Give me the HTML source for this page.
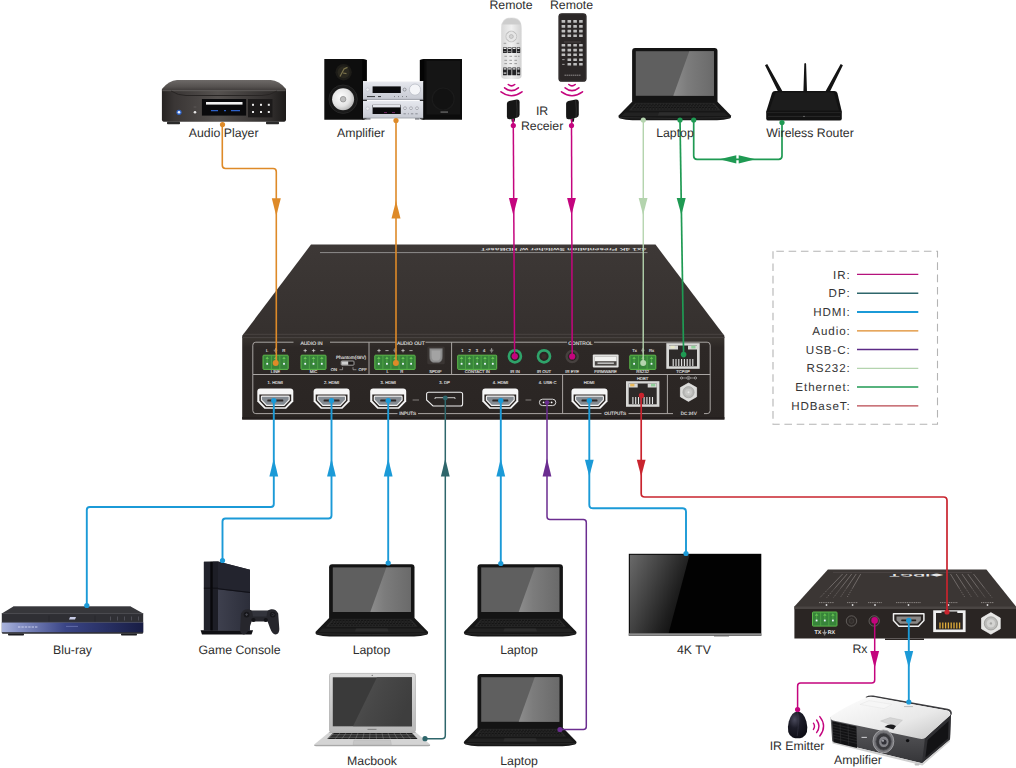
<!DOCTYPE html>
<html>
<head>
<meta charset="utf-8">
<title>Connection Diagram</title>
<style>
html,body{margin:0;padding:0;background:#fff;}
body{width:1016px;height:768px;overflow:hidden;position:relative;font-family:"Liberation Sans",sans-serif;}
svg{position:absolute;left:0;top:0;display:block;}
text{font-family:"Liberation Sans",sans-serif;}
.lbl{font-size:12.3px;fill:#2e2e2e;}
.leg{font-size:11.6px;fill:#333;letter-spacing:0.92px;}
.w{fill:none;stroke-width:1.8;stroke-linejoin:round;stroke-linecap:butt;}
.tiny{font-size:3.6px;fill:#e0e0e0;stroke:#e0e0e0;stroke-width:0.12px;font-weight:normal;text-rendering:geometricPrecision;}
text{text-rendering:geometricPrecision;}
</style>
</head>
<body>
<svg width="1016" height="768" viewBox="0 0 1016 768">
<defs>
<!--DEFS-->
<linearGradient id="gBlu" x1="0" y1="0" x2="1" y2="0"><stop offset="0" stop-color="#aab4dc"/><stop offset="0.12" stop-color="#8792c6"/><stop offset="0.45" stop-color="#3a4586"/><stop offset="1" stop-color="#181d44"/></linearGradient>
<linearGradient id="gTV" x1="0" y1="0" x2="1" y2="0.55"><stop offset="0" stop-color="#6a6a6a"/><stop offset="0.45" stop-color="#404040"/><stop offset="0.8" stop-color="#1e1e1e"/><stop offset="1" stop-color="#0e0e0e"/></linearGradient>
<linearGradient id="gMac" x1="0" y1="0" x2="0" y2="1"><stop offset="0" stop-color="#dcdcdc"/><stop offset="1" stop-color="#b9b9b9"/></linearGradient>
<linearGradient id="gMacS" x1="0" y1="0" x2="1" y2="0.4"><stop offset="0" stop-color="#535353"/><stop offset="0.5" stop-color="#474747"/><stop offset="1" stop-color="#3e3e3e"/></linearGradient>
<linearGradient id="gPS" x1="0" y1="0" x2="1" y2="0"><stop offset="0" stop-color="#3e404e"/><stop offset="1" stop-color="#2c2e3a"/></linearGradient>
<linearGradient id="gPrT" x1="0" y1="0" x2="1" y2="1"><stop offset="0" stop-color="#ffffff"/><stop offset="0.6" stop-color="#e9e9e9"/><stop offset="1" stop-color="#c4c4c4"/></linearGradient>
<linearGradient id="gPrF" x1="0" y1="0" x2="0" y2="1"><stop offset="0" stop-color="#626265"/><stop offset="0.5" stop-color="#4c4c4f"/><stop offset="1" stop-color="#353538"/></linearGradient>
<radialGradient id="gEgg" cx="0.35" cy="0.3" r="0.8"><stop offset="0" stop-color="#4a4a5c"/><stop offset="0.4" stop-color="#1c1c28"/><stop offset="1" stop-color="#0b0b12"/></radialGradient>
<g id="hdmis">
<path d="M-15.2 -6.3 H15.2 V0.6 L9.8 6.3 H-9.8 L-15.2 0.6Z" fill="#2a2523" stroke="#efefef" stroke-width="1.5" stroke-linejoin="round"/>
<path d="M-12.2 -3.5 H12.2 V0.2 L8.5 3.7 H-8.5 L-12.2 0.2Z" fill="#8a8887"/>
<rect x="-7.5" y="-0.6" width="15" height="1.8" rx="0.6" fill="#2a2523"/>
</g>

<linearGradient id="gScr" x1="0" y1="0" x2="1" y2="0"><stop offset="0" stop-color="#5d5d5d"/><stop offset="1" stop-color="#6a6a6a"/></linearGradient>
<linearGradient id="gShine" x1="0" y1="0" x2="1" y2="0"><stop offset="0" stop-color="#8d8d8d"/><stop offset="0.35" stop-color="#7c7c7c"/><stop offset="1" stop-color="#6a6a6a"/></linearGradient>
<g id="laptop">
<rect x="0" y="0" width="85.4" height="56" rx="3" fill="#141414"/>
<rect x="3.7" y="3.2" width="78.1" height="44.6" fill="#5f5f5f"/>
<path d="M57.2 3.2 H81.8 V47.8 H41.2Z" fill="url(#gShine)"/>
<path d="M0 53.8 H85.4 L98.6 67.2 Q99.8 69.4 97.4 70.6 Q92 72.2 85 72.2 H0.4 Q-6.6 72.2 -12 70.6 Q-14.4 69.4 -13.2 67.2Z" fill="#171717"/>
<path d="M3.5 55 H81.9 L88.6 62.6 H-3.2Z" fill="#2a2a2a"/>
<path d="M4 56.2 H81.4 M2.8 57.8 H82.6 M1.6 59.4 H83.8 M0.2 61 H85.2" stroke="#111" stroke-width="0.9" stroke-dasharray="2.3 0.8"/>
<path d="M-7 64.4 H92.4 L96 68 H-10.6Z" fill="#222"/>
<path d="M27 64.2 H58.4 L59.6 67.4 H25.8Z" fill="#2d2d2d"/>
<path d="M-12.8 69.6 Q42 71.2 98.2 69.6" stroke="#353535" stroke-width="0.6" fill="none"/>
</g>
<linearGradient id="gAP" x1="0" y1="0" x2="1" y2="0"><stop offset="0" stop-color="#262322"/><stop offset="0.1" stop-color="#3a3635"/><stop offset="0.45" stop-color="#55514f"/><stop offset="0.88" stop-color="#312e2d"/><stop offset="1" stop-color="#1d1b1a"/></linearGradient>
<linearGradient id="gAPt" x1="0" y1="0" x2="0" y2="1"><stop offset="0" stop-color="#6d6967"/><stop offset="0.6" stop-color="#565250"/><stop offset="1" stop-color="#3c3837"/></linearGradient>
<radialGradient id="gWoof" cx="0.4" cy="0.4" r="0.7"><stop offset="0" stop-color="#ffffff"/><stop offset="0.6" stop-color="#e4e4e4"/><stop offset="1" stop-color="#a9a9a9"/></radialGradient>
<linearGradient id="gSil" x1="0" y1="0" x2="0" y2="1"><stop offset="0" stop-color="#e6e8ee"/><stop offset="1" stop-color="#c6c9d2"/></linearGradient>
<linearGradient id="gRem" x1="0" y1="0" x2="1" y2="0"><stop offset="0" stop-color="#d8d8d8"/><stop offset="0.5" stop-color="#f0f0f0"/><stop offset="1" stop-color="#d2d2d2"/></linearGradient>
<g id="irrx"><path d="M0.9 2.6 Q0.9 0.3 3.2 -0.2 L10.6 -1.6 Q13.6 -1.9 13.6 1 V13.4 Q13.6 15.8 11.4 16.4 L4.4 18 Q0.9 18.6 0.9 15.6Z" fill="#161616"/><path d="M10.4 -1 Q11.6 8 10.8 16.4" stroke="#3a3a3a" stroke-width="0.7" fill="none"/><path d="M5.2 17.4 L5.8 20.6 H8.6 L9.2 16.8Z" fill="#161616"/></g>
<g id="waves" fill="none" stroke="#C4057E" stroke-width="1.6" stroke-linecap="round"><path d="M-3.2 0 Q0 2.6 3.2 0"/><path d="M-6.9 3.3 Q0 8.9 6.9 3.3"/><path d="M-10.5 7.3 Q0 15.1 10.5 7.3"/></g>

<linearGradient id="gFront" x1="0" y1="0" x2="0" y2="1"><stop offset="0" stop-color="#38332f"/><stop offset="0.12" stop-color="#2d2826"/><stop offset="1" stop-color="#2a2523"/></linearGradient>
<linearGradient id="gTop" x1="0" y1="0" x2="0" y2="1"><stop offset="0" stop-color="#3d3836"/><stop offset="1" stop-color="#35302e"/></linearGradient>
<g id="hdmi">
<path d="M-15 -10.6 H15 Q18 -10.6 18 -7.6 V2.4 L10.8 9.7 H-10.8 L-18 2.4 V-7.6 Q-18 -10.6 -15 -10.6Z" fill="#f6f6f6"/>
<path d="M-15.9 -4.5 H15.9 V1.7 L9.8 8.2 H-9.8 L-15.9 1.7Z" fill="#2a2523"/>
<path d="M-13 -2.9 H13 Q13.9 -2.9 13.9 -2 V1 L8.7 6.4 H-8.7 L-13.9 1 V-2 Q-13.9 -2.9 -13 -2.9Z" fill="#848b92" stroke="#f2f2f2" stroke-width="1.1"/>
<rect x="-8" y="0.6" width="16" height="2" rx="0.7" fill="#2e2a2a"/>
</g>
<g id="pin"><rect x="-3.6" y="-7" width="7.2" height="14" fill="#3fa535"/><path d="M-3.6 -7 V7 M3.6 -7 V7" stroke="#256b22" stroke-width="0.5"/><path d="M0 -6.5 L-1.6 -3.8 H1.6Z" fill="#256b22"/><path d="M0 -4 V2" stroke="#256b22" stroke-width="0.5"/><rect x="-0.9" y="0.2" width="1.8" height="1.8" fill="#e9f3ff"/></g>
<g id="rj45">
<rect x="-16.7" y="-12.8" width="33.4" height="25.6" fill="#d8d8d6"/>
<path d="M-14 -10.5 H14 V10.3 H-14Z" fill="#2d2a29"/>
<path d="M-14 -10.5 H-5 V-6.5 H-14Z M5 -10.5 H14 V-6.5 H5Z" fill="#d8d8d6"/>
<path d="M-9.8 3 V10 M-7 3 V10 M-4.2 3 V10 M-1.4 3 V10 M1.4 3 V10 M4.2 3 V10 M7 3 V10 M9.8 3 V10" stroke="#e6e6e6" stroke-width="1.1"/>
</g>
<g id="gnd"><path d="M0 -2.2 V0 M-1.8 0 H1.8 M-1.1 1 H1.1 M-0.5 2 H0.5" stroke="#e8e8e8" stroke-width="0.5" fill="none"/></g>

</defs>

<!--DEVICES-TOP-->
<g id="audioplayer">
<path d="M177 80 H270.7 Q279 80.3 286 89 V91 H161.9 V89 Q169 80.3 177 80Z" fill="url(#gAPt)"/>
<path d="M161.9 90.4 H286 V119.5 Q286 121.8 283 121.8 H165 Q161.9 121.8 161.9 119.5Z" fill="url(#gAP)"/>
<path d="M162.4 90.7 H285.5" stroke="#6f6b69" stroke-width="0.7"/>
<path d="M171 91 Q178 95.5 186 95.5 H262 Q270 95.5 277 91" fill="none" stroke="#282524" stroke-width="1"/>
<rect x="167" y="121.6" width="13" height="2.6" rx="0.8" fill="#2a2a2a"/><rect x="266" y="121.6" width="13" height="2.6" rx="0.8" fill="#2a2a2a"/>
<rect x="201.9" y="99" width="44.2" height="16.6" fill="#0a0a0c"/>
<rect x="206" y="102" width="36.5" height="2.6" fill="#f3f3f3"/>
<path d="M211 110.6 H218 M224 110.6 H226 M231 110.6 H240" stroke="#2e62c9" stroke-width="1.4"/>
<rect x="248" y="99" width="24.5" height="18.3" fill="#1c1a1a"/>
<g fill="#e9e9e9"><rect x="252" y="103.8" width="2" height="2"/><rect x="260" y="103.8" width="2" height="2"/><rect x="267.8" y="103.8" width="2" height="2"/><rect x="252" y="111" width="2" height="2"/><rect x="260" y="111" width="2" height="2"/><rect x="267.8" y="111" width="2" height="2"/></g>
<circle cx="179" cy="112.3" r="2.6" fill="#2f63c6"/><circle cx="179" cy="112.3" r="1.3" fill="#eef3ff"/>
<circle cx="195" cy="112.3" r="1.3" fill="#e6e6e6"/><rect x="193.6" y="106.5" width="2.8" height="1" fill="#5c5857"/>
</g>

<g id="stereo">
<path d="M324.3 58.9 H362.3 L366.7 60 V119 L362.3 119.7 H324.3Z" fill="#0e0e0e"/>
<path d="M362.3 58.9 L366.7 60 V119 L362.3 119.7Z" fill="#050505"/>
<circle cx="343.1" cy="99.2" r="14.2" fill="#1a1a1a" stroke="#262626" stroke-width="1"/>
<circle cx="343.1" cy="99.2" r="11" fill="url(#gWoof)"/><circle cx="343.1" cy="99.2" r="2.8" fill="#bdbdbd" stroke="#8a8a8a" stroke-width="0.7"/>
<circle cx="343.6" cy="72.3" r="8.2" fill="#1d1c18"/><circle cx="343.6" cy="72.3" r="6" fill="#2a281f"/><path d="M340 76.5 L344 69 L347.5 67.4 M343 73 L346.5 73.6" stroke="#7a724b" stroke-width="1.2" fill="none"/>
<path d="M419.9 60 L424.3 58.9 H462 V119.7 H424.3 L419.9 119Z" fill="#0c0c0c"/>
<path d="M419.9 60 L424.3 58.9 V119.7 L419.9 119Z" fill="#040404"/>
<rect x="426.5" y="61" width="33.5" height="53.5" fill="#151515"/>
<circle cx="443.2" cy="99" r="11" fill="#121212" stroke="#1b1b1b" stroke-width="1.2"/>
<rect x="440.5" y="111.6" width="7.5" height="0.9" fill="#8d8d8d"/>
<rect x="363" y="81.2" width="60.2" height="18.4" fill="url(#gSil)"/><path d="M363 81.6 H423.2" stroke="#f7f7f9" stroke-width="0.8"/>
<path d="M363 99.4 H423.2" stroke="#8f929a" stroke-width="0.8"/>
<rect x="363" y="100.8" width="60.2" height="17.4" fill="url(#gSil)"/><path d="M363 118 H423.2" stroke="#9a9da5" stroke-width="0.7"/>
<rect x="372.6" y="86.4" width="28.2" height="6.6" fill="#0b0b0d"/>
<circle cx="415" cy="89.6" r="5.6" fill="#f4f5f8" stroke="#b9bcc5" stroke-width="0.8"/>
<circle cx="404.6" cy="89.6" r="1.5" fill="#d9dbe1" stroke="#70737b" stroke-width="0.6"/>
<circle cx="367.6" cy="89.6" r="1.7" fill="#eceef2" stroke="#b6b9c1" stroke-width="0.5"/>
<path d="M367 96.6 H375 M378 96.6 H381" stroke="#33353a" stroke-width="1"/><path d="M394 96.6 h1 m3 0 h1 m3 0 h1 m3 0 h1" stroke="#70737b" stroke-width="0.9"/>
<rect x="372.6" y="104.8" width="28.2" height="9.2" fill="#0b0b0d"/><rect x="373" y="104.8" width="27.4" height="2.6" fill="#e4e6ec"/>
<path d="M384 112.6 h3 m5 0 h3" stroke="#8a2b7a" stroke-width="0.8"/>
<circle cx="367.6" cy="108.6" r="1.7" fill="#eceef2" stroke="#b6b9c1" stroke-width="0.5"/>
<g fill="#e9ebf0" stroke="#787b84" stroke-width="0.5"><circle cx="405" cy="108.2" r="1.4"/><circle cx="411" cy="108.2" r="1.4"/><circle cx="417" cy="108.2" r="1.4"/></g>
<path d="M403.5 113.8 h2.4 m2 0 h1 m2 0 h2.4 m2 0 h2.4" stroke="#85888f" stroke-width="0.9"/>
<rect x="366" y="118.2" width="4.5" height="1.4" fill="#777a82"/><rect x="415" y="118.2" width="4.5" height="1.4" fill="#777a82"/>
</g>

<g id="remote1">
<path d="M501.2 28 Q501.2 17.3 511.4 17.3 Q521.6 17.3 521.6 28 V75.6 Q521.6 78.9 518.3 78.9 H504.5 Q501.2 78.9 501.2 75.6Z" fill="url(#gRem)"/>
<path d="M502.2 24.6 Q503.6 18 511.4 18 Q519.2 18 520.6 24.6Z" fill="#cdcdcd"/>
<circle cx="511.3" cy="36.5" r="5.4" fill="#e6e6e6" stroke="#b9b9b9" stroke-width="0.7"/><circle cx="511.3" cy="36.5" r="2" fill="#d2d2d2" stroke="#a3a3a3" stroke-width="0.5"/>
<path d="M506.4 34 l3 -2.4 M516.2 34 l-3 -2.4 M506.4 39 l3 2.4 M516.2 39 l-3 2.4" stroke="#bdbdbd" stroke-width="0.8"/>
<path d="M503.6 43.4 h2.6 M516.6 43.4 h2.6" stroke="#ababab" stroke-width="1.1"/>
<g fill="#232325"><rect x="503" y="47.2" width="3.9" height="5.8" rx="0.5"/><rect x="507.6" y="47.2" width="3.9" height="5.8" rx="0.5"/><rect x="512.2" y="47.2" width="3.9" height="5.8" rx="0.5"/><rect x="516.8" y="47.2" width="3.4" height="5.8" rx="0.5"/></g>
<path d="M503.6 48.3 h2.7 m1.9 0 h2.7 m1.9 0 h2.7 m1.9 0 h2.2" stroke="#e8e8e8" stroke-width="1.2"/>
<path d="M503.6 51.6 h2.7 m1.9 0 h2.7 m6.5 0 h2.2" stroke="#8e8e90" stroke-width="0.9"/>
<path d="M504.4 56.3 h2.6 m2.4 0 h2.6 m2.4 0 h2.6 m1 0 h1.6 M504.4 60.3 h2.6 m2.4 0 h2.6 m2.4 0 h2.6 M504.4 63.6 h2.6 m2.4 0 h2.6 m2.4 0 h2.6" stroke="#9a9a9a" stroke-width="1"/>
<g fill="#232325"><rect x="503" y="67.6" width="3.9" height="7.6" rx="0.5"/><rect x="507.6" y="67.6" width="3.9" height="7.6" rx="0.5"/><rect x="512.2" y="67.6" width="3.9" height="7.6" rx="0.5"/><rect x="516.8" y="67.6" width="3.4" height="7.6" rx="0.5"/></g>
<path d="M503.6 68.8 h2.7 m1.9 0 h2.7 m1.9 0 h2.7 m1.9 0 h2.2" stroke="#e4e4e4" stroke-width="1.2"/>
<path d="M503.6 73.2 h2.7 M517.4 73.2 h2.2" stroke="#d8d8d8" stroke-width="1.3"/>
</g>

<g id="remote2">
<rect x="558.4" y="13.2" width="28.2" height="68.6" rx="3.4" fill="#2b2727"/>
<rect x="559.4" y="14" width="26.2" height="67" rx="2.8" fill="none" stroke="#3a3535" stroke-width="0.6"/>
<g fill="#bdbdbd">
<rect x="561.6" y="20.1" width="3.6" height="2.6" rx="0.3"/><rect x="567.5" y="20.1" width="3.6" height="2.6" rx="0.3"/><rect x="573.3" y="20.1" width="3.6" height="2.6" rx="0.3"/><rect x="579.1" y="20.1" width="3.6" height="2.6" rx="0.3"/><rect x="561.6" y="25.1" width="3.6" height="2.6" rx="0.3"/><rect x="567.5" y="25.1" width="3.6" height="2.6" rx="0.3"/><rect x="573.3" y="25.1" width="3.6" height="2.6" rx="0.3"/><rect x="579.1" y="25.1" width="3.6" height="2.6" rx="0.3"/><rect x="561.6" y="29.8" width="3.6" height="2.6" rx="0.3"/><rect x="567.5" y="29.8" width="3.6" height="2.6" rx="0.3"/><rect x="573.3" y="29.8" width="3.6" height="2.6" rx="0.3"/><rect x="579.1" y="29.8" width="3.6" height="2.6" rx="0.3"/><rect x="561.6" y="34.4" width="3.6" height="2.6" rx="0.3"/><rect x="567.5" y="34.4" width="3.6" height="2.6" rx="0.3"/><rect x="573.3" y="34.4" width="3.6" height="2.6" rx="0.3"/><rect x="579.1" y="34.4" width="3.6" height="2.6" rx="0.3"/><rect x="561.6" y="43.9" width="3.6" height="2.6" rx="0.3"/><rect x="567.5" y="43.9" width="3.6" height="2.6" rx="0.3"/><rect x="573.3" y="43.9" width="3.6" height="2.6" rx="0.3"/><rect x="579.1" y="43.9" width="3.6" height="2.6" rx="0.3"/><rect x="561.6" y="48.8" width="3.6" height="2.6" rx="0.3"/><rect x="567.5" y="48.8" width="3.6" height="2.6" rx="0.3"/><rect x="573.3" y="48.8" width="3.6" height="2.6" rx="0.3"/><rect x="579.1" y="48.8" width="3.6" height="2.6" rx="0.3"/><rect x="561.6" y="53.5" width="3.6" height="2.6" rx="0.3"/><rect x="567.5" y="53.5" width="3.6" height="2.6" rx="0.3"/><rect x="573.3" y="53.5" width="3.6" height="2.6" rx="0.3"/><rect x="579.1" y="53.5" width="3.6" height="2.6" rx="0.3"/><rect x="562.2" y="59.3" width="2.4" height="0.8"/><rect x="567.5" y="58.4" width="3.6" height="2.6" rx="0.3"/><rect x="573.3" y="58.4" width="3.6" height="2.6" rx="0.3"/><rect x="579.1" y="58.4" width="3.6" height="2.6" rx="0.3"/><rect x="562.2" y="63.9" width="2.4" height="0.8"/><rect x="567.5" y="63.0" width="3.6" height="2.6" rx="0.3"/><rect x="573.3" y="63.0" width="3.6" height="2.6" rx="0.3"/><rect x="579.1" y="63.0" width="3.6" height="2.6" rx="0.3"/>
</g>
<path d="M564 42 H581" stroke="#6c6767" stroke-width="0.5"/>
<path d="M564.5 75.2 H581" stroke="#9b9797" stroke-width="0.9" stroke-dasharray="1.5 0.5"/>
</g>

<use href="#waves" x="511.5" y="84.5"/><use href="#waves" x="572" y="84.5"/>
<use href="#irrx" x="506" y="101.2"/><use href="#irrx" x="565.2" y="101.2"/>
<path d="M513.1 119 V125" stroke="#C4057E" stroke-width="1.6"/><path d="M571.7 119 V125" stroke="#C4057E" stroke-width="1.6"/>

<use href="#laptop" x="632.1" y="48"/>

<g id="router">
<path d="M765 65.2 L767.2 64 L782.6 91.6 H778Z M804.3 63.8 Q805.2 62.4 806.1 63.8 L807 91.6 H803.4Z M842.9 65.2 L840.7 64 L825.4 91.6 H830Z" fill="#141414"/>
<path d="M775 90.9 H834.4 Q836.6 90.9 837.4 93 L841.8 111.6 V118.4 Q841.8 120.6 839.5 120.6 H768.5 Q766.2 120.6 766.2 118.4 V111.6 L772 93 Q772.8 90.9 775 90.9Z" fill="#121212"/>
<path d="M775.6 92.4 H833.8 L839 110.4 H769.2Z" fill="#1c1c1c"/>
<path d="M766.2 112.6 H841.8" stroke="#2c2c2c" stroke-width="0.7"/><path d="M768 116.4 H840" stroke="#303030" stroke-width="0.8"/><circle cx="804" cy="116.4" r="0.7" fill="#888"/>
</g>


<!--MAIN-DEVICE-->
<g id="main">
<path d="M311 244.6 H655.5 L724.4 335.7 V338 H242.2 V335.7Z" fill="url(#gTop)"/>
<path d="M242.2 337.6 H724.4 V419.5 H242.2Z" fill="url(#gFront)"/>
<path d="M243.4 334.3 H723.3 M242.2 337.6 H724.4" stroke="#514c4a" stroke-width="0.7"/>
<path d="M242.2 417 H724.4 V419.5 H242.2Z" fill="#241f1e"/>
<path d="M320 252.6 H647.5" stroke="#c4c4c4" stroke-width="0.6"/>
<text x="565" y="248.2" transform="rotate(180 565 248.2)" text-anchor="middle" font-size="5.2" font-weight="bold" fill="#d8d8d8" style="display:none">x</text>
<g transform="translate(563.4 248) scale(-1 -0.52)"><text x="0" y="0" text-anchor="middle" font-size="8" font-weight="bold" fill="#d4d4d4" textLength="165.5" lengthAdjust="spacingAndGlyphs">4x1 4K Presentation Switcher w/ HDBaseT</text></g>
<g fill="none" stroke="#a9a5a3" stroke-width="1">
<path d="M252.8 374.5 V345.2 Q252.8 342.2 255.8 342.2 H293.5 M330 342.2 H396 M425.5 342.2 H567 M594 342.2 H707.2 Q710.2 342.2 710.2 345.2 V410.6 Q710.2 413.6 707.2 413.6 H704 M673 413.6 H628.5 M601.5 413.6 H418 M397.5 413.6 H255.8 Q252.8 413.6 252.8 410.6 V374.5 H710.2"/>
<path d="M369 342.2 V374.5 M451.6 342.2 V374.5 M562.6 374.5 V413.6 M667.4 374.5 V413.6"/>
</g>
<g class="tiny" text-anchor="middle" font-size="4.8">
<text x="311.5" y="345" font-size="5">AUDIO IN</text>
<text x="410.8" y="345" font-size="5">AUDIO OUT</text>
<text x="580.4" y="345" font-size="5">CONTROL</text>
<text x="407.7" y="415.2" font-size="4.6">INPUTS</text>
<text x="615.2" y="415.2" font-size="4.6">OUTPUTS</text>
<text x="688.7" y="415.2" font-size="4.6">DC 24V</text>
</g>
<g class="tiny" text-anchor="middle" style="font-size:4.2px" fill="#dcdcdc">
<text x="275.3" y="384">1. HDMI</text><text x="331.6" y="384">2. HDMI</text><text x="388.3" y="384">3. HDMI</text><text x="444.6" y="384">3. DP</text><text x="500.5" y="384">4. HDMI</text><text x="547.6" y="384">4. USB-C</text><text x="589" y="384">HDMI</text><text x="642.7" y="380">HDBT</text>
<text x="275.5" y="373.2">LINE</text><text x="313.5" y="373.2">MIC</text><text x="387.6" y="373.2">L</text><text x="401.7" y="373.2">R</text><text x="435.4" y="373.2">SPDIF</text><text x="477.3" y="373.2">CONTACT IN</text><text x="514.9" y="373.2">IR IN</text><text x="544" y="373.2">IR OUT</text><text x="572.2" y="373.2">IR EYE</text><text x="605.6" y="373.2">FIRMWARE</text><text x="642.7" y="373.2">RS232</text><text x="683" y="373.2">TCP/IP</text>
<text x="267.2" y="352.3">L</text><text x="283.8" y="352.3">R</text>
<text x="351" y="359" style="font-size:4.7px">Phantom(48V)</text><text x="334" y="371.2">ON</text><text x="362.6" y="371.2">OFF</text>
<text x="462.4" y="352.3">1</text><text x="469.6" y="352.3">2</text><text x="476.9" y="352.3">3</text><text x="484.2" y="352.3">4</text>
<text x="634.5" y="352.3">Tx</text><text x="651.5" y="352.3">Rx</text>
</g>
<path d="M303.5 350.6 h3.4 M305.2 348.90000000000003 v3.4 M311.90000000000003 350.6 h3.4 M313.6 348.90000000000003 v3.4 M320.4 350.6 h3.2 M377.3 350.6 h3.4 M379 348.90000000000003 v3.4 M385.4 350.6 h3.2 M401.3 350.6 h3.4 M403 348.90000000000003 v3.4 M409.4 350.6 h3.2 " stroke="#e2e2e2" stroke-width="0.7" fill="none"/>
<use href="#gnd" x="275.5" y="350.2"/><use href="#gnd" x="395" y="350.2"/><use href="#gnd" x="491.6" y="350.2"/><use href="#gnd" x="642.8" y="350.2"/>
<path d="M313.6 348.2 v4.4 M311.4 350.4 h4.4" stroke="none"/>
<rect x="263" y="355.2" width="25.2" height="14.2" rx="0.8" fill="#37843a" stroke="#5dbb4b" stroke-width="1"/><path d="M267.2 356.4 l-1.7 2.6 h3.4z" fill="#66c452"/><path d="M267.2 358.2 V363.3" stroke="#66c452" stroke-width="0.5"/><rect x="266.3" y="362.9" width="1.8" height="1.8" fill="#eaf4ff"/><path d="M275.6 356.4 l-1.7 2.6 h3.4z" fill="#66c452"/><path d="M275.6 358.2 V363.3" stroke="#66c452" stroke-width="0.5"/><rect x="274.7" y="362.9" width="1.8" height="1.8" fill="#eaf4ff"/><path d="M271.4 355.7 V368.9" stroke="#66c452" stroke-width="0.5"/><path d="M284.0 356.4 l-1.7 2.6 h3.4z" fill="#66c452"/><path d="M284.0 358.2 V363.3" stroke="#66c452" stroke-width="0.5"/><rect x="283.1" y="362.9" width="1.8" height="1.8" fill="#eaf4ff"/><path d="M279.8 355.7 V368.9" stroke="#66c452" stroke-width="0.5"/>
<rect x="301" y="355.2" width="25.0" height="14.2" rx="0.8" fill="#37843a" stroke="#5dbb4b" stroke-width="1"/><path d="M305.2 356.4 l-1.7 2.6 h3.4z" fill="#66c452"/><path d="M305.2 358.2 V363.3" stroke="#66c452" stroke-width="0.5"/><rect x="304.3" y="362.9" width="1.8" height="1.8" fill="#eaf4ff"/><path d="M313.5 356.4 l-1.7 2.6 h3.4z" fill="#66c452"/><path d="M313.5 358.2 V363.3" stroke="#66c452" stroke-width="0.5"/><rect x="312.6" y="362.9" width="1.8" height="1.8" fill="#eaf4ff"/><path d="M309.3 355.7 V368.9" stroke="#66c452" stroke-width="0.5"/><path d="M321.8 356.4 l-1.7 2.6 h3.4z" fill="#66c452"/><path d="M321.8 358.2 V363.3" stroke="#66c452" stroke-width="0.5"/><rect x="320.9" y="362.9" width="1.8" height="1.8" fill="#eaf4ff"/><path d="M317.7 355.7 V368.9" stroke="#66c452" stroke-width="0.5"/>
<rect x="374.8" y="355.2" width="40.3" height="14.2" rx="0.8" fill="#37843a" stroke="#5dbb4b" stroke-width="1"/><path d="M378.8 356.4 l-1.7 2.6 h3.4z" fill="#66c452"/><path d="M378.8 358.2 V363.3" stroke="#66c452" stroke-width="0.5"/><rect x="377.9" y="362.9" width="1.8" height="1.8" fill="#eaf4ff"/><path d="M386.9 356.4 l-1.7 2.6 h3.4z" fill="#66c452"/><path d="M386.9 358.2 V363.3" stroke="#66c452" stroke-width="0.5"/><rect x="386.0" y="362.9" width="1.8" height="1.8" fill="#eaf4ff"/><path d="M382.9 355.7 V368.9" stroke="#66c452" stroke-width="0.5"/><path d="M395.0 356.4 l-1.7 2.6 h3.4z" fill="#66c452"/><path d="M395.0 358.2 V363.3" stroke="#66c452" stroke-width="0.5"/><rect x="394.1" y="362.9" width="1.8" height="1.8" fill="#eaf4ff"/><path d="M390.9 355.7 V368.9" stroke="#66c452" stroke-width="0.5"/><path d="M403.0 356.4 l-1.7 2.6 h3.4z" fill="#66c452"/><path d="M403.0 358.2 V363.3" stroke="#66c452" stroke-width="0.5"/><rect x="402.1" y="362.9" width="1.8" height="1.8" fill="#eaf4ff"/><path d="M399.0 355.7 V368.9" stroke="#66c452" stroke-width="0.5"/><path d="M411.1 356.4 l-1.7 2.6 h3.4z" fill="#66c452"/><path d="M411.1 358.2 V363.3" stroke="#66c452" stroke-width="0.5"/><rect x="410.2" y="362.9" width="1.8" height="1.8" fill="#eaf4ff"/><path d="M407.0 355.7 V368.9" stroke="#66c452" stroke-width="0.5"/>
<rect x="457.7" y="355.2" width="39.0" height="14.2" rx="0.8" fill="#37843a" stroke="#5dbb4b" stroke-width="1"/><path d="M461.6 356.4 l-1.7 2.6 h3.4z" fill="#66c452"/><path d="M461.6 358.2 V363.3" stroke="#66c452" stroke-width="0.5"/><rect x="460.7" y="362.9" width="1.8" height="1.8" fill="#eaf4ff"/><path d="M469.4 356.4 l-1.7 2.6 h3.4z" fill="#66c452"/><path d="M469.4 358.2 V363.3" stroke="#66c452" stroke-width="0.5"/><rect x="468.5" y="362.9" width="1.8" height="1.8" fill="#eaf4ff"/><path d="M465.5 355.7 V368.9" stroke="#66c452" stroke-width="0.5"/><path d="M477.2 356.4 l-1.7 2.6 h3.4z" fill="#66c452"/><path d="M477.2 358.2 V363.3" stroke="#66c452" stroke-width="0.5"/><rect x="476.3" y="362.9" width="1.8" height="1.8" fill="#eaf4ff"/><path d="M473.3 355.7 V368.9" stroke="#66c452" stroke-width="0.5"/><path d="M485.0 356.4 l-1.7 2.6 h3.4z" fill="#66c452"/><path d="M485.0 358.2 V363.3" stroke="#66c452" stroke-width="0.5"/><rect x="484.1" y="362.9" width="1.8" height="1.8" fill="#eaf4ff"/><path d="M481.1 355.7 V368.9" stroke="#66c452" stroke-width="0.5"/><path d="M492.8 356.4 l-1.7 2.6 h3.4z" fill="#66c452"/><path d="M492.8 358.2 V363.3" stroke="#66c452" stroke-width="0.5"/><rect x="491.9" y="362.9" width="1.8" height="1.8" fill="#eaf4ff"/><path d="M488.9 355.7 V368.9" stroke="#66c452" stroke-width="0.5"/>
<rect x="629.8" y="355.2" width="26.0" height="14.2" rx="0.8" fill="#37843a" stroke="#5dbb4b" stroke-width="1"/><path d="M634.1 356.4 l-1.7 2.6 h3.4z" fill="#66c452"/><path d="M634.1 358.2 V363.3" stroke="#66c452" stroke-width="0.5"/><rect x="633.2" y="362.9" width="1.8" height="1.8" fill="#eaf4ff"/><path d="M642.8 356.4 l-1.7 2.6 h3.4z" fill="#66c452"/><path d="M642.8 358.2 V363.3" stroke="#66c452" stroke-width="0.5"/><rect x="641.9" y="362.9" width="1.8" height="1.8" fill="#eaf4ff"/><path d="M638.5 355.7 V368.9" stroke="#66c452" stroke-width="0.5"/><path d="M651.5 356.4 l-1.7 2.6 h3.4z" fill="#66c452"/><path d="M651.5 358.2 V363.3" stroke="#66c452" stroke-width="0.5"/><rect x="650.6" y="362.9" width="1.8" height="1.8" fill="#eaf4ff"/><path d="M647.1 355.7 V368.9" stroke="#66c452" stroke-width="0.5"/>
<rect x="341.2" y="361" width="12.8" height="4.2" rx="0.8" fill="#1d1918" stroke="#d4d4d4" stroke-width="0.7"/><rect x="341.6" y="361.4" width="6.6" height="3.4" fill="#cfcfcf"/>
<path d="M339.4 369.7 H342.6 V367.2 M356.4 369.7 H353 V367.2" stroke="#dcdcdc" stroke-width="0.5" fill="none"/>
<rect x="427.3" y="346.6" width="17.4" height="17.6" rx="1.5" fill="#3a3533"/>
<path d="M429.6 348.6 H442.4 V356 Q442.4 362 438.8 362.4 H433.2 Q429.6 362 429.6 356Z" fill="#8f8f8f" stroke="#6a6a6a" stroke-width="0.5"/>
<path d="M431.6 350.6 H440.4 V356 Q440.4 360 438 360.4 H434 Q431.6 360 431.6 356Z" fill="#a3a3a3"/>
<circle cx="514.9" cy="356.3" r="6" fill="#2a2523" stroke="#2fa36a" stroke-width="2.7"/>
<circle cx="544" cy="356.3" r="6" fill="#2b2422" stroke="#2fa36a" stroke-width="2.7"/><circle cx="544" cy="356.3" r="2.6" fill="#3a2c28"/>
<circle cx="572.2" cy="356.5" r="5.6" fill="#2a2523" stroke="#46413f" stroke-width="2.4"/>
<rect x="592.8" y="354.6" width="25.8" height="12.8" rx="1" fill="#e2e2e0"/><rect x="594.8" y="356.4" width="21.8" height="9.2" fill="#4a4644"/><rect x="594.8" y="356.4" width="21.8" height="4.8" fill="#f2f2f0"/>
<rect x="597.5" y="362.4" width="16.4" height="1.6" fill="#bdbdbb"/>
<use href="#rj45" x="683" y="356"/>
<use href="#rj45" x="642.7" y="394"/>
<rect x="630.2" y="383.8" width="4.2" height="2.6" fill="#e9b95a"/><rect x="651" y="383.8" width="4.2" height="2.6" fill="#8fcf9a"/>
<rect x="670.5" y="345.8" width="4.2" height="2.6" fill="#e8e8c8"/><rect x="691.3" y="345.8" width="4.2" height="2.6" fill="#8fcf9a"/>
<use href="#hdmi" x="275.3" y="399"/><use href="#hdmi" x="331.6" y="399"/><use href="#hdmi" x="388.2" y="399"/><use href="#hdmi" x="500.3" y="399"/><use href="#hdmi" x="589.5" y="399"/>
<path d="M412.6 400 H419 M525.5 400 H531.3" stroke="#a9a6a5" stroke-width="0.7"/>
<path d="M428.6 392.3 H460.6 Q462.6 392.3 462.6 394.3 V404 Q462.6 406 460.6 406 H433 L426.6 400 V394.3 Q426.6 392.3 428.6 392.3Z" fill="#2a2523" stroke="#ededed" stroke-width="1.1"/>
<path d="M435 399 V397.7 H455 V399" fill="none" stroke="#ededed" stroke-width="0.8"/>
<rect x="539.4" y="399.2" width="16.4" height="6.4" rx="3.2" fill="#2a2523" stroke="#ededed" stroke-width="0.9"/><circle cx="543.6" cy="402.4" r="0.9" fill="#fff"/><circle cx="551.6" cy="402.4" r="0.9" fill="#fff"/><path d="M545 402.4 H550" stroke="#777" stroke-width="0.7"/>
<path d="M680 378 H697" stroke="#e0e0e0" stroke-width="0.5"/><circle cx="681.6" cy="378" r="1.1" fill="#2a2523" stroke="#e0e0e0" stroke-width="0.5"/><circle cx="695.4" cy="378" r="1.1" fill="#2a2523" stroke="#e0e0e0" stroke-width="0.5"/><circle cx="688.5" cy="378" r="1.6" fill="#2a2523" stroke="#e0e0e0" stroke-width="0.5"/><circle cx="688.5" cy="378" r="0.6" fill="#e0e0e0"/>
<path d="M688.5 383 L696.6 387.6 V396.8 L688.5 401.4 L680.4 396.8 V387.6Z" fill="#dcdcda" stroke="#f4f4f4" stroke-width="0.6"/><circle cx="688.5" cy="392.2" r="5.6" fill="#b9b9b7" stroke="#9a9a98" stroke-width="0.6"/><circle cx="688.5" cy="392.2" r="3.4" fill="#c9c9c7"/><circle cx="688.5" cy="392.2" r="1" fill="#e8e8e6"/>
</g>


<!--DEVICES-BOTTOM-->
<g id="bluray">
<path d="M13.3 606.5 H130.7 L143.2 613.5 H1.8Z" fill="#37373b"/>
<path d="M13.3 606.5 H130.7" stroke="#55555a" stroke-width="0.6"/>
<path d="M1.8 613.3 H143.2 V632.6 Q143.2 633.8 142 633.8 H3 Q1.8 633.8 1.8 632.6Z" fill="#2f2f34"/>
<path d="M1.8 613.6 H143.2" stroke="#4b4b50" stroke-width="0.6"/>
<rect x="1.8" y="622.6" width="141.4" height="9.6" fill="url(#gBlu)"/>
<path d="M1.8 622.4 H143.2" stroke="#6b6f88" stroke-width="0.5"/>
<path d="M49 615.6 V621.6 M95 615.6 V621.6" stroke="#24242a" stroke-width="0.6"/>
<path d="M70 617 h6 l-1 2.4 h-6z" fill="#c7cbe6"/>
<path d="M110.5 616.5 v4 m7 -4 v4 m7 -4 v4 m7 -4 v4 m7 -4 v4" stroke="#5c5c66" stroke-width="0.7"/>
<path d="M18 627 H38" stroke="#dfe4fb" stroke-width="1.2" stroke-dasharray="2.4 1" opacity="0.8"/><path d="M66 626.4 H78" stroke="#7e88c2" stroke-width="0.6"/>
<path d="M90 629 H110" stroke="#2e3670" stroke-width="0.6" stroke-dasharray="1 1.4"/>
<rect x="8" y="633.6" width="16" height="2" rx="0.8" fill="#1d1d20"/><rect x="121" y="633.6" width="16" height="2" rx="0.8" fill="#1d1d20"/>
</g>

<g id="ps4">
<path d="M200.6 630.2 H253.1 L251.5 634.6 H202Z" fill="#101014"/>
<path d="M203.9 561.8 L218 561.4 L250 569.8 V630.5 H203.9Z" fill="#1a1b22"/>
<path d="M218 561.4 L250 569.8 V592 L218 588.3Z" fill="#23242e"/>
<path d="M218 589.3 L250 593 V630.5 H218Z" fill="url(#gPS)"/>
<path d="M203.9 561.8 H210.4 V630.5 H203.9Z" fill="#22232c"/>
<path d="M210.4 561.7 H212.8 V630.5 H210.4Z" fill="#08080b"/>
<path d="M212.8 561.6 L218 561.4 V630.5 H212.8Z" fill="#1d1e26"/>
<path d="M203.9 588.2 H218" stroke="#0b0b0f" stroke-width="0.8"/>
<path d="M218 588.8 L250 592.5" stroke="#101017" stroke-width="0.9"/>
<path d="M241 613.5 Q243.5 608.6 248.5 609.2 L252 610.6 H267.5 L271 609.2 Q276 608.6 278.2 613.5 L279.3 628.5 Q279.6 634.2 275.5 634.4 Q272.2 634.2 270 628 L267.6 621.6 H251.6 L249.4 628 Q247 634.2 243.8 634.4 Q239.8 634.2 240.2 628.5Z" fill="#26262c"/>
<path d="M252 611 H267.5 L266.5 616.5 H253Z" fill="#33343c"/>
<circle cx="246.6" cy="614.6" r="2.9" fill="#17171b"/><circle cx="272.8" cy="614.6" r="2.9" fill="#17171b"/>
<circle cx="253.4" cy="620" r="2.1" fill="#141418"/><circle cx="265.8" cy="620" r="2.1" fill="#141418"/>
<path d="M245.2 614.6 h2.8 M246.6 613.2 v2.8" stroke="#4b4c55" stroke-width="0.8"/><circle cx="272.8" cy="614.6" r="1.2" fill="none" stroke="#55565f" stroke-width="0.6" stroke-dasharray="1 0.9"/>
</g>

<use href="#laptop" x="329.1" y="564.2"/>
<use href="#laptop" x="477.5" y="564.2"/>
<use href="#laptop" x="477.5" y="674"/>

<g id="macbook">
<rect x="329.1" y="673" width="86.7" height="59.4" rx="2.6" fill="url(#gMac)"/>
<rect x="329.5" y="673.4" width="85.9" height="58.6" rx="2.3" fill="none" stroke="#b5b5b5" stroke-width="0.7"/>
<rect x="332.8" y="677.3" width="79.1" height="49" fill="#3a3a3a"/>
<path d="M377 677.3 H411.9 V726.3 H353Z" fill="url(#gMacS)"/>
<circle cx="372.2" cy="675.3" r="0.6" fill="#555"/>
<path d="M367.5 729.4 H376.5" stroke="#777" stroke-width="0.9"/>
<path d="M329.4 732 H415.4 L430.2 744.6 Q430.8 746.2 428.4 746.4 H316 Q313.6 746.2 314.2 744.6Z" fill="#d4d4d4"/>
<path d="M329.4 732 H415.4 L416 732.7 H328.6Z" fill="#a9a9a9"/>
<path d="M333 733 H412 L417.6 738.9 H327.2Z" fill="#1d1d1d"/>
<path d="M331.8 734.5 H413.4 M330.4 736 H415 M329 737.5 H416.4" stroke="#bbb" stroke-width="0.3"/>
<path d="M334 733 l-5.8 5.9 M340 733 l-5 5.9 M346 733 l-4.2 5.9 M352 733 l-3.4 5.9 M358 733 l-2.4 5.9 M364 733 l-1.4 5.9 M370 733 l-0.5 5.9 M376 733 l0.5 5.9 M382 733 l1.4 5.9 M388 733 l2.4 5.9 M394 733 l3.4 5.9 M400 733 l4.2 5.9 M406 733 l5 5.9" stroke="#bbb" stroke-width="0.3"/>
<path d="M354 740 H390.4 L391.4 744.6 H353Z" fill="#c6c6c6" stroke="#b0b0b0" stroke-width="0.4"/>
<path d="M314.4 745.4 H430" stroke="#a3a3a3" stroke-width="1"/>
</g>

<g id="tv">
<rect x="628.8" y="553.8" width="132.5" height="82" fill="#020202"/>
<path d="M629.8 554.8 H689.6 L668.6 633.2 H629.8Z" fill="url(#gTV)"/>
<rect x="628.8" y="633.8" width="132.5" height="1.9" fill="#8d8d8d"/>
<path d="M628.8 633.6 H761.3" stroke="#c9c9c9" stroke-width="0.5"/>
<path d="M714 636 H729" stroke="#555" stroke-width="0.8"/>
</g>

<g id="rxbox">
<path d="M827.9 569.5 H986.4 L1016 606.6 V609 H794.4 V606.4Z" fill="#3b3634"/>
<path d="M794.4 606.4 H1016 V609.2 H794.4Z" fill="#4a4543"/>
<path d="M794.4 609 H1016 V638.6 H794.4Z" fill="#2a2523"/>
<path d="M885 638.4 H924 V640 H885Z" fill="#2a2523"/>
<g stroke="#6f6967" stroke-width="1" fill="none"><path d="M950.5 574 L958.9 587.7"/><path d="M958.9 587.7 L965.0 597.6" stroke-dasharray="1.2 1.2"/><path d="M842.6 574 L829.5 587.7"/><path d="M829.5 587.7 L820.0 597.6" stroke-dasharray="1.2 1.2"/><path d="M956.2 574 L965.2 587.7"/><path d="M965.2 587.7 L971.8 597.6" stroke-dasharray="1.2 1.2"/><path d="M847.1 574 L835.3 587.7"/><path d="M835.3 587.7 L826.8 597.6" stroke-dasharray="1.2 1.2"/><path d="M962.0 574 L971.6 587.7"/><path d="M971.6 587.7 L978.5 597.6" stroke-dasharray="1.2 1.2"/><path d="M851.7 574 L841.1 587.7"/><path d="M841.1 587.7 L833.5 597.6" stroke-dasharray="1.2 1.2"/><path d="M967.8 574 L977.9 587.7"/><path d="M977.9 587.7 L985.2 597.6" stroke-dasharray="1.2 1.2"/><path d="M856.2 574 L846.9 587.7"/><path d="M846.9 587.7 L840.2 597.6" stroke-dasharray="1.2 1.2"/><path d="M973.5 574 L984.2 587.7"/><path d="M984.2 587.7 L992.0 597.6" stroke-dasharray="1.2 1.2"/><path d="M860.7 574 L852.8 587.7"/><path d="M852.8 587.7 L847.0 597.6" stroke-dasharray="1.2 1.2"/></g><path d="M833 572.4 H972" stroke="#57514f" stroke-width="0.6"/>
<g transform="translate(916 573.7) scale(-2.05 -0.45)"><text x="0" y="0" text-anchor="middle" font-size="8" font-weight="bold" fill="#e6e6e6" letter-spacing="0.2">&#9670;IDGT</text></g>
<g fill="#d8d8d8"><circle cx="826.5" cy="605" r="0.9"/><circle cx="852.6" cy="605" r="0.9"/><circle cx="875" cy="605" r="0.9"/><circle cx="908.5" cy="605" r="0.9"/><circle cx="948.5" cy="605" r="0.9"/><circle cx="987.5" cy="605" r="0.9"/></g>
<path d="M819 602.6 h15 M847 602.6 h11 M868 602.6 h14 M896 602.6 h25 M940 602.6 h18 M981 602.6 h13" stroke="#a7a3a1" stroke-width="0.7" stroke-dasharray="1.2 0.6"/>
<rect x="812.5" y="612" width="24.5" height="14.1" rx="0.8" fill="#37843a" stroke="#5dbb4b" stroke-width="1"/><path d="M816.6 613.2 l-1.7 2.6 h3.4z" fill="#66c452"/><path d="M816.6 615.0 V620.0" stroke="#66c452" stroke-width="0.5"/><rect x="815.7" y="619.6" width="1.8" height="1.8" fill="#eaf4ff"/><path d="M824.8 613.2 l-1.7 2.6 h3.4z" fill="#66c452"/><path d="M824.8 615.0 V620.0" stroke="#66c452" stroke-width="0.5"/><rect x="823.9" y="619.6" width="1.8" height="1.8" fill="#eaf4ff"/><path d="M820.7 612.5 V625.6" stroke="#66c452" stroke-width="0.5"/><path d="M832.9 613.2 l-1.7 2.6 h3.4z" fill="#66c452"/><path d="M832.9 615.0 V620.0" stroke="#66c452" stroke-width="0.5"/><rect x="832.0" y="619.6" width="1.8" height="1.8" fill="#eaf4ff"/><path d="M828.8 612.5 V625.6" stroke="#66c452" stroke-width="0.5"/>

<text x="818" y="634.3" text-anchor="middle" font-size="5.3" font-weight="bold" fill="#f0f0f0">TX</text><text x="831.4" y="634.3" text-anchor="middle" font-size="5.3" font-weight="bold" fill="#f0f0f0">RX</text><g transform="translate(824.6 632.4) scale(1.25)"><use href="#gnd" x="0" y="0"/></g>
<circle cx="851.5" cy="621" r="5.2" fill="#2d2826" stroke="#777270" stroke-width="0.7"/><circle cx="851.5" cy="621" r="2.4" fill="#332e2c" stroke="#4e4947" stroke-width="0.6"/>
<circle cx="874.2" cy="621" r="5.2" fill="#2d2826" stroke="#777270" stroke-width="0.7"/>
<use href="#hdmis" x="908.7" y="620"/>
<rect x="933.2" y="610.3" width="32.4" height="21.8" fill="#f0f0f0"/>
<path d="M936 613 H941.5 V611.6 H957.3 V613 H962.8 V629.6 H936Z" fill="#2b2624"/>
<path d="M940 622.6 V628.6 M942.8 622.6 V628.6 M945.6 622.6 V628.6 M948.4 622.6 V628.6 M951.2 622.6 V628.6 M954 622.6 V628.6 M956.8 622.6 V628.6 M959.6 622.6 V628.6" stroke="#e0ac3a" stroke-width="1.3"/>
<path d="M990.9 612.6 L1000.3 618 V628.8 L990.9 634.2 L981.5 628.8 V618Z" fill="#e7e7e5" stroke="#fafafa" stroke-width="0.6"/><circle cx="990.9" cy="623.4" r="6.6" fill="#bcbcba" stroke="#8f8f8d" stroke-width="0.7"/><circle cx="990.9" cy="623.4" r="4.2" fill="#d4d4d2"/><circle cx="990.9" cy="623.4" r="1.2" fill="#a5a5a3"/>
</g>

<g id="projector">
<path d="M830.6 717 L832.2 741.4 L922 763.2 L950 739.6 L951 714.6 L925 738Z" fill="url(#gPrF)"/>
<path d="M925 738 L951 714.6 L950 739.6 L922 763.2Z" fill="#2e2e31"/>
<path d="M927.6 740 L948.6 721 L948 738.4 L925.4 757.6Z" fill="#131315"/>
<path d="M922 763.2 L950 739.6 L949.8 741.6 L922.4 765.4 L832.6 743.4 L832.2 741.4Z" fill="#cfcfcf"/>
<rect x="914.6" y="763.4" width="5" height="2" rx="0.8" fill="#bdbdbd"/>
<path d="M866 697.6 Q869 695.8 873 696.4 L947.6 709.6 Q951.6 710.6 951 714.6" fill="none" stroke="#3c3c3f" stroke-width="1.6"/>
<path d="M830.6 716.4 Q846 706 866.4 697.4 Q870 696.2 875 697.2 L946.6 710.4 Q950.6 711.4 950 715.4 L925 738 Q923 739.4 918.6 738.6 L833.2 720.4 Q829.6 719.2 830.6 716.4Z" fill="url(#gPrT)"/>
<path d="M880.6 721 L890 717.6 L902.4 720.2 L895.6 726.4 Z" fill="#d6d6d6" stroke="#bcbcbc" stroke-width="0.4"/><path d="M884.6 727 Q889.6 722.8 896 726 L893.4 729.6 Z" fill="#1b1b1d"/>
<path d="M869 700.6 L892 704.4 L884 708.6 L860 704.4Z" fill="#f6f6f6" stroke="#e0e0e0" stroke-width="0.4"/>
<path d="M904 706.6 h9" stroke="#a9a9a9" stroke-width="0.7"/>
<path d="M832.2 721.2 L856.4 726.6 L857 748 L833.6 742.2Z" fill="#121214"/>
<g stroke="#38383b" stroke-width="0.5"><path d="M832.4 724 L856.5 729.4 M832.6 726.8 L856.6 732.2 M832.8 729.6 L856.7 735 M833 732.4 L856.8 737.8 M833.2 735.2 L856.9 740.6 M833.4 738 L857 743.4 M840 723 L840.8 744 M848 724.8 L848.8 746"/></g>
<ellipse cx="883.4" cy="741.4" rx="10.4" ry="11.4" fill="#77777b" stroke="#a4a4a7" stroke-width="0.9"/><ellipse cx="883.6" cy="741.6" rx="7.8" ry="8.6" fill="#3a3a3e" stroke="#56565a" stroke-width="0.8"/><ellipse cx="883.8" cy="741.8" rx="5.2" ry="5.8" fill="#84848a" stroke="#2c2c30" stroke-width="0.7"/><circle cx="884" cy="742" r="2.6" fill="#33333a"/><circle cx="883" cy="740.8" r="0.9" fill="#c9c9d0"/>
<circle cx="907.6" cy="740.6" r="1.7" fill="#0e0e10"/>
<path d="M861.5 737.4 h5.4" stroke="#c9c9cc" stroke-width="1.1"/>
</g>

<g id="emitter">
<path d="M797.6 711.5 Q803.5 711.5 806.4 721.5 Q809.5 734 802.5 737.4 Q797.6 739.2 792.7 737.4 Q785.7 734 788.8 721.5 Q791.7 711.5 797.6 711.5Z" fill="url(#gEgg)"/>
<path d="M797.6 712.2 Q799.4 722 797.2 736" stroke="#3d3d4e" stroke-width="0.7" fill="none" opacity="0.7"/>
<g fill="none" stroke="#C4057E" stroke-width="1.4" stroke-linecap="round"><path d="M813.4 723.2 Q815.6 726.3 813.4 729.4"/><path d="M816.6 720 Q821.4 726.3 816.6 732.6"/><path d="M819.8 716.6 Q827.4 726.3 819.8 736"/></g>
</g>


<!--WIRES-->
<g class="w" stroke="#DE8A28" style="stroke-width:1.6">
<path d="M222.3 124 V165.3 Q222.3 168.5 225.5 168.5 H273.1 Q276.3 168.5 276.3 171.7 V363"/>
<path d="M396 121 V363"/>
</g>
<g fill="#DE8A28"><circle cx="222.5" cy="124.5" r="2.6"/><circle cx="396" cy="120.5" r="2.6"/>
<path d="M271.8 198.2 H280.8 L276.3 216Z"/><path d="M391.5 218.6 H400.5 L396 200.8Z"/>
<circle cx="275.7" cy="363" r="3"/><circle cx="395.9" cy="363" r="3"/></g>

<g class="w" stroke="#C4057E" style="stroke-width:1.5">
<path d="M513.3 125 L514.6 356"/><path d="M571.5 125 L572.2 356"/>
<path d="M874.7 621 V680 Q874.7 683 871.7 683 H800.6 Q797.6 683 797.6 686 V709"/>
</g>
<g fill="#C4057E"><circle cx="513.3" cy="125.5" r="2.6"/><circle cx="571.5" cy="125.5" r="2.6"/>
<path d="M508.9 198 H517.7 L513.3 215Z"/><path d="M567.1 198 H575.9 L571.5 215Z"/>
<circle cx="514.8" cy="356.3" r="3.1"/><circle cx="572.2" cy="356.5" r="3.1"/>
<circle cx="874.6" cy="620.4" r="3.3"/><circle cx="797.6" cy="709.5" r="2.6"/>
<path d="M870.3 651 H879.1 L874.7 668Z"/></g>

<g class="w" stroke="#B4D4AE" style="stroke-width:1.4"><path d="M643.3 120 L643.2 363"/></g>
<g fill="#B4D4AE"><circle cx="643.3" cy="120" r="2.6"/><path d="M638.7 198 H647.5 L643.1 215Z"/><circle cx="643.2" cy="363" r="3"/></g>

<g class="w" stroke="#1F9A53" style="stroke-width:1.7"><path d="M680 120 L683.6 354.5"/>
<path d="M693.7 120 V156 Q693.7 159.3 697 159.3 H778.7 Q782 159.3 782 156 V122"/></g>
<g fill="#1F9A53"><circle cx="680" cy="120" r="2.6"/><circle cx="693.7" cy="120" r="2.6"/><circle cx="782" cy="122.5" r="2.6"/>
<path d="M676.7 198 H685.7 L681.4 215Z"/><circle cx="683.6" cy="354.6" r="2.8"/>
<path d="M719.5 159.3 L736.3 155.2 V163.4Z"/><path d="M755.5 159.3 L738.7 155.2 V163.4Z"/></g>

<g class="w" stroke="#1B9AD7" style="stroke-width:1.9">
<path d="M273.8 400 V504 Q273.8 507 270.8 507 H89.8 Q86.8 507 86.8 510 V605"/>
<path d="M331.5 400 V515.5 Q331.5 518.5 328.5 518.5 H225.5 Q222.5 518.5 222.5 521.5 V560"/>
<path d="M388.2 400 V563"/>
<path d="M500.8 400 V563"/>
<path d="M589.3 400 V504.7 Q589.3 508.2 592.8 508.2 H682.5 Q686 508.2 686 511.7 V553"/>
<path d="M908.8 620 V701"/>
</g>
<g fill="#1B9AD7">
<circle cx="273.8" cy="400.6" r="2.7"/><circle cx="331.5" cy="400.6" r="2.7"/><circle cx="388.2" cy="400.6" r="2.7"/><circle cx="500.8" cy="400.6" r="2.7"/><circle cx="589.3" cy="400.6" r="2.7"/><circle cx="908.8" cy="620.4" r="2.7"/>
<circle cx="86.8" cy="605.5" r="2.6"/><circle cx="222.5" cy="560.5" r="2.6"/><circle cx="388.2" cy="563" r="2.6"/><circle cx="500.8" cy="563.5" r="2.6"/><circle cx="686" cy="553.5" r="2.6"/><circle cx="908.8" cy="702" r="2.6"/>
<path d="M269.4 476.5 H278.2 L273.8 458.6Z"/><path d="M327.1 476.5 H335.9 L331.5 458.6Z"/><path d="M383.8 476.5 H392.6 L388.2 458.6Z"/><path d="M496.4 476.5 H505.2 L500.8 458.6Z"/>
<path d="M584.9 459.8 H593.7 L589.3 476.6Z"/><path d="M904.4 651 H913.2 L908.8 668Z"/>
</g>

<g class="w" stroke="#2E666B" style="stroke-width:1.5"><path d="M445.3 398 V735.5 Q445.3 738.7 442 738.7 H425"/></g>
<g fill="#2E666B"><circle cx="425" cy="738.7" r="2.6"/><circle cx="445.3" cy="398" r="2.4"/><path d="M440.9 476.5 H449.7 L445.3 458.6Z"/></g>

<g class="w" stroke="#6B2D90" style="stroke-width:1.5"><path d="M547 402 V516.4 Q547 519.4 550 519.4 H583.3 Q586.3 519.4 586.3 522.4 V726.5 Q586.3 729.5 583.3 729.5 H560"/></g>
<g fill="#6B2D90"><circle cx="560" cy="729.5" r="2.6"/><circle cx="547" cy="402.4" r="2.2"/><path d="M542.6 476.5 H551.4 L547 458.6Z"/></g>

<g class="w" stroke="#C9242E" style="stroke-width:1.7"><path d="M641.2 395 V493.5 Q641.2 497 644.7 497 H943.5 Q947 497 947 500.5 V612"/></g>
<g fill="#C9242E"><circle cx="641.5" cy="395.5" r="2.7"/><circle cx="947" cy="612" r="2.6"/><path d="M636.8 459.8 H645.6 L641.2 476.6Z"/></g>


<!--LEGEND-->
<rect x="773" y="251.3" width="164.5" height="173" fill="none" stroke="#b4b4b4" stroke-width="1.1" stroke-dasharray="7.6 4.7" stroke-dashoffset="-3.3"/>
<text class="leg" x="850.7" y="278.5" text-anchor="end">IR:</text><path d="M857 274.4 H918.3" stroke="#B5127C" stroke-width="1.35" fill="none"/>
<text class="leg" x="850.7" y="297.3" text-anchor="end">DP:</text><path d="M857 293.2 H918.3" stroke="#2E666B" stroke-width="1.35" fill="none"/>
<text class="leg" x="850.7" y="316.1" text-anchor="end">HDMI:</text><path d="M857 312 H918.3" stroke="#1B9AD7" stroke-width="1.8" fill="none"/>
<text class="leg" x="850.7" y="334.9" text-anchor="end">Audio:</text><path d="M857 330.8 H918.3" stroke="#DE8A28" stroke-width="1.35" fill="none"/>
<text class="leg" x="850.7" y="353.6" text-anchor="end">USB-C:</text><path d="M857 349.5 H918.3" stroke="#5B2A86" stroke-width="1.35" fill="none"/>
<text class="leg" x="850.7" y="372.4" text-anchor="end">RS232:</text><path d="M857 368.3 H918.3" stroke="#B4D4AE" stroke-width="1.35" fill="none"/>
<text class="leg" x="850.7" y="391.1" text-anchor="end">Ethernet:</text><path d="M857 387 H918.3" stroke="#1F9A53" stroke-width="1.35" fill="none"/>
<text class="leg" x="850.7" y="409.9" text-anchor="end">HDBaseT:</text><path d="M857 405.8 H918.3" stroke="#B8474F" stroke-width="1.35" fill="none"/>


<!--LABELS-->
<g class="lbl" text-anchor="middle">
<text x="223.7" y="137.3">Audio Player</text>
<text x="361" y="137.3">Amplifier</text>
<text x="511" y="8.5">Remote</text>
<text x="571.5" y="8.5">Remote</text>
<text x="542.1" y="115.3">IR</text>
<text x="542.1" y="129.6">Receier</text>
<text x="675" y="137.3">Laptop</text>
<text x="810" y="137.3">Wireless Router</text>
<text x="72.5" y="653.7">Blu-ray</text>
<text x="239.5" y="653.7">Game Console</text>
<text x="371.5" y="653.7">Laptop</text>
<text x="519" y="653.7">Laptop</text>
<text x="694" y="653.7">4K TV</text>
<text x="372" y="765.2">Macbook</text>
<text x="519.1" y="765">Laptop</text>
<text x="860" y="653">Rx</text>
<text x="797" y="750">IR Emitter</text>
<text x="858" y="764.3">Amplifier</text>
</g>

</svg>
</body>
</html>
